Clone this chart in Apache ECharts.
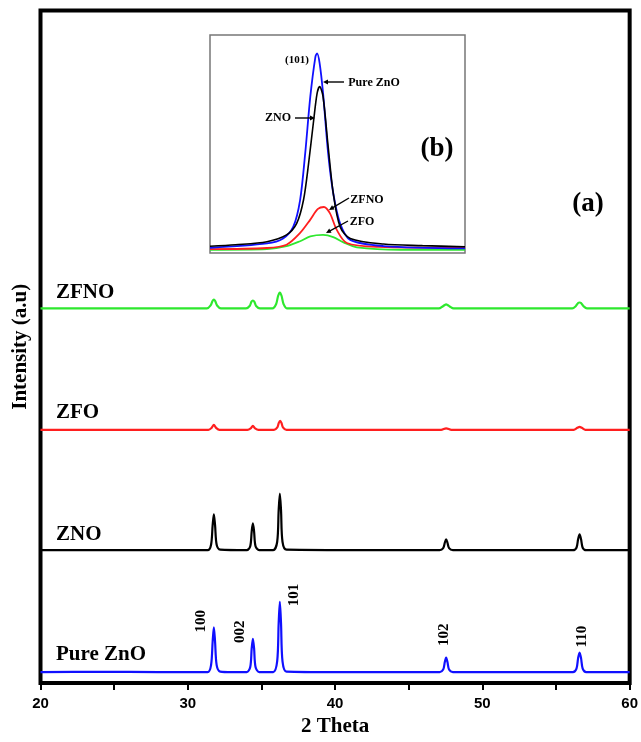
<!DOCTYPE html>
<html><head><meta charset="utf-8">
<script src="https://cdn.jsdelivr.net/npm/echarts@6/dist/echarts.min.js"></script>
<style>html,body{margin:0;padding:0;background:#fff}#c{width:641px;height:742px}</style>
</head><body><div id="c"></div><script>
// ---------- data ----------
const xTicks = [20, 30, 40, 50, 60];
const sampleNames = ['Pure ZnO', 'ZNO', 'ZFO', 'ZFNO'];
const peakLabels = ['100', '002', '101', '102', '110'];
const peakPositions = [31.77, 34.42, 36.25, 47.54, 56.60];

const pureZnO = [[20,11],[24,11.3],[28,11],[31.35,11],[31.58,18],[31.69,42],[31.77,56],[31.85,42],[31.96,18],[32.2,11.5],
  [33,11],[34.0,11],[34.24,16],[34.34,35],[34.42,44.5],[34.5,35],[34.6,16],[34.85,11],[35.8,11],[36.07,22],[36.17,60],[36.25,81.5],
  [36.33,60],[36.43,22],[36.7,11.5],[40,11],[44,11],[47.1,11],[47.34,13.5],[47.45,21],[47.54,25.5],[47.63,21],[47.74,13.5],[48.0,11],
  [52,11],[56.15,11],[56.39,14.5],[56.5,25],[56.6,30.5],[56.7,25],[56.81,14.5],[57.05,11],[60,11]];
const zno = [[20,133.5],[26,133.5],[31.35,133.5],[31.58,139],[31.69,159],[31.77,169.5],[31.85,159],[31.96,139],[32.2,134],
  [34.0,133.5],[34.24,137.5],[34.34,152.5],[34.42,160.5],[34.5,152.5],[34.6,137.5],[34.85,133.5],[35.8,133.5],[36.07,142],[36.17,173.5],
  [36.25,190.5],[36.33,173.5],[36.43,142],[36.7,134],[42,133.5],[47.1,133.5],[47.34,135.5],[47.45,141],[47.54,144.5],[47.63,141],
  [47.74,135.5],[48.0,133.5],[52,133.5],[56.15,133.5],[56.39,136],[56.5,144.5],[56.6,149.5],[56.7,144.5],[56.81,136],[57.05,133.5],[60,133.5]];
const zfo = [[20,254.5],[31.4,254.5],[31.62,256.5],[31.77,259.5],[31.92,256.5],[32.15,254.5],[34.05,254.5],[34.27,256],[34.42,258.5],
  [34.57,256],[34.8,254.5],[35.85,254.5],[36.08,257],[36.18,261.5],[36.27,263.5],[36.36,261.5],[36.46,257],[36.7,254.5],[47.2,254.5],
  [47.54,256],[47.9,254.5],[56.2,254.5],[56.45,256.5],[56.6,257.5],[56.75,256.5],[57.0,254.5],[60,254.5]];
const zfno = [[20,376.5],[31.3,376.5],[31.55,379.5],[31.68,384],[31.77,385.5],[31.86,384],[31.99,379.5],[32.25,376.5],[33.95,376.5],
  [34.2,379],[34.33,383.5],[34.42,384.5],[34.51,383.5],[34.64,379],[34.9,376.5],[35.75,376.5],[36.0,381],[36.13,389],[36.25,392.5],
  [36.37,389],[36.5,381],[36.75,376.5],[47.05,376.5],[47.3,378.5],[47.45,380],[47.54,380.5],[47.63,380],[47.78,378.5],[48.05,376.5],
  [56.1,376.5],[56.35,379],[56.5,382],[56.6,382.5],[56.7,382],[56.85,379],[57.1,376.5],[60,376.5]];

// inset (b): (101) reflection
const insetPure = [[35,2.4],[35.67,4.4],[35.86,6.7],[35.98,12.1],[36.06,24.3],[36.12,45.7],[36.18,71.7],[36.24,90],[36.26,91.6],
  [36.29,87],[36.33,73.3],[36.39,45.7],[36.45,27.4],[36.53,13.6],[36.65,6],[37.04,3.2],[38,2.1]];
const insetZNO = [[35,3.1],[35.3,3.8],[35.67,5.2],[35.9,8.3],[36.02,13.6],[36.1,24.3],[36.16,41.1],[36.22,61],[36.26,73.2],[36.29,76.3],
  [36.33,71.7],[36.39,48.8],[36.45,27.4],[36.53,12.1],[36.65,6.7],[37.04,4.1],[37.5,3.4],[38,2.9]];
const insetRed = [[35,1.8],[35.67,2.3],[35.9,3.8],[36.06,9.2],[36.18,15.3],[36.27,20.2],[36.34,21.1],[36.41,18.3],[36.49,10.7],
  [36.61,4.6],[36.98,2.8],[38,2.4]];
const insetGreen = [[35,1.5],[35.67,1.8],[35.9,3.1],[36.06,5.4],[36.18,7.6],[36.33,8.3],[36.45,7.3],[36.57,4.9],[36.73,2.6],[37.24,1.5],[38,1.5]];

// ---------- chart ----------
const SERIF = '"Liberation Serif","Times New Roman",serif';
const SANS = '"Liberation Sans",Arial,sans-serif';
const BLUE = '#1010ff', RED = '#ff1f1f', GREEN = '#2ee82e', BLACK = '#000';
const chart = echarts.init(document.getElementById('c'), null, {renderer: 'canvas'});

function txt(t, x, y, size, align, extra) {
  return Object.assign({type: 'text', x: x, y: y, z: 100,
    style: {text: t, font: 'bold ' + size + 'px ' + SERIF, fill: '#000', align: align || 'center', verticalAlign: 'middle'}}, extra || {});
}
function arrow(x1, y1, x2, y2) {
  const a = Math.atan2(y2 - y1, x2 - x1), L = 5, W = 2.4, c = Math.cos(a), s = Math.sin(a);
  return [
    {type: 'line', z: 100, shape: {x1: x1, y1: y1, x2: x2 - c * 3, y2: y2 - s * 3}, style: {stroke: '#000', lineWidth: 1.4}},
    {type: 'polygon', z: 100, shape: {points: [[x2, y2], [x2 - L * c + W * s, y2 - L * s - W * c], [x2 - L * c - W * s, y2 - L * s + W * c]]}, style: {fill: '#000'}}
  ];
}

const lineS = (name, data, color, xi, w, smooth) => ({
  type: 'line', name: name, data: data, xAxisIndex: xi, yAxisIndex: xi, showSymbol: false, symbol: 'none',
  smooth: smooth || false, smoothMonotone: null, lineStyle: {color: color, width: w}, itemStyle: {color: color}, animation: false
});

const option = {
  animation: false,
  grid: [
    {left: 40.5, right: 9, top: 10.5, bottom: 55.5, show: true, borderColor: '#000', borderWidth: 4, backgroundColor: 'transparent'},
    {left: 210, top: 35, width: 255, height: 218, show: true, borderColor: '#777', borderWidth: 1.5, backgroundColor: '#fff', z: 5}
  ],
  xAxis: [
    {type: 'value', gridIndex: 0, min: 20, max: 60, interval: 5,
      name: '2 Theta', nameLocation: 'middle', nameGap: 33,
      nameTextStyle: {fontFamily: SERIF, fontWeight: 'bold', fontSize: 21, color: '#000'},
      axisLine: {show: false}, splitLine: {show: false},
      axisTick: {show: true, inside: false, length: 7, lineStyle: {color: '#000', width: 2}},
      axisLabel: {margin: 13, color: '#000', fontFamily: SANS, fontWeight: 'bold', fontSize: 15,
        formatter: v => xTicks.indexOf(v) >= 0 ? String(v) : ''}},
    {type: 'value', gridIndex: 1, min: 35, max: 38, show: false}
  ],
  yAxis: [
    {type: 'value', gridIndex: 0, min: 0, max: 676, name: 'Intensity (a.u)', nameLocation: 'middle', nameGap: 9,
      nameTextStyle: {fontFamily: SERIF, fontWeight: 'bold', fontSize: 21, color: '#000'},
      axisLine: {show: false}, axisTick: {show: false}, axisLabel: {show: false}, splitLine: {show: false}},
    {type: 'value', gridIndex: 1, min: 0, max: 100, show: false, splitLine: {show: false}}
  ],
  series: [
    lineS(sampleNames[0], pureZnO, BLUE, 0, 2.2, 0.3),
    lineS(sampleNames[1], zno, BLACK, 0, 2.2, 0.3),
    lineS(sampleNames[2], zfo, RED, 0, 2.2, 0.3),
    lineS(sampleNames[3], zfno, GREEN, 0, 2.2, 0.3),
    Object.assign(lineS('inset ZFO', insetGreen, GREEN, 1, 1.8, 0.3), {z: 6}),
    Object.assign(lineS('inset ZFNO', insetRed, RED, 1, 1.8, 0.3), {z: 6}),
    Object.assign(lineS('inset Pure ZnO', insetPure, BLUE, 1, 1.8, 0.3), {z: 6}),
    Object.assign(lineS('inset ZNO', insetZNO, BLACK, 1, 1.6, 0.3), {z: 6})
  ]
};
chart.setOption(option);

// annotations
const g = [];
g.push(txt(sampleNames[3], 56, 293, 21, 'left'));
g.push(txt(sampleNames[2], 56, 413, 21, 'left'));
g.push(txt(sampleNames[1], 56, 535, 21, 'left'));
g.push(txt(sampleNames[0], 56, 655, 21, 'left'));
g.push(txt('(a)', 588, 204, 27));
g.push(txt('(b)', 437, 149, 27));
// inset labels
g.push(txt('(101)', 297, 60, 11));
g.push(txt('Pure ZnO', 374, 83, 12));
g.push(...arrow(344, 82, 323, 82));
g.push(txt('ZNO', 278, 118, 12));
g.push(...arrow(295, 118, 315, 118));
g.push(txt('ZFNO', 367, 200, 12));
g.push(...arrow(349, 198, 329, 210));
g.push(txt('ZFO', 362, 222, 12));
g.push(...arrow(348, 221, 326, 233));
// peak (hkl) labels, anchored at the peak tops of the Pure ZnO pattern
const offs = [[-13, -6], [-13, -7], [14, -7], [-2, -23], [3, -16]];
peakPositions.forEach((p, i) => {
  const top = pureZnO.find(d => d[0] === p)[1];
  const px = chart.convertToPixel({gridIndex: 0}, [p, top]);
  g.push(txt(peakLabels[i], px[0] + offs[i][0], px[1] + offs[i][1], 15, 'center', {rotation: Math.PI / 2}));
});
chart.setOption({graphic: g});
</script></body></html>
